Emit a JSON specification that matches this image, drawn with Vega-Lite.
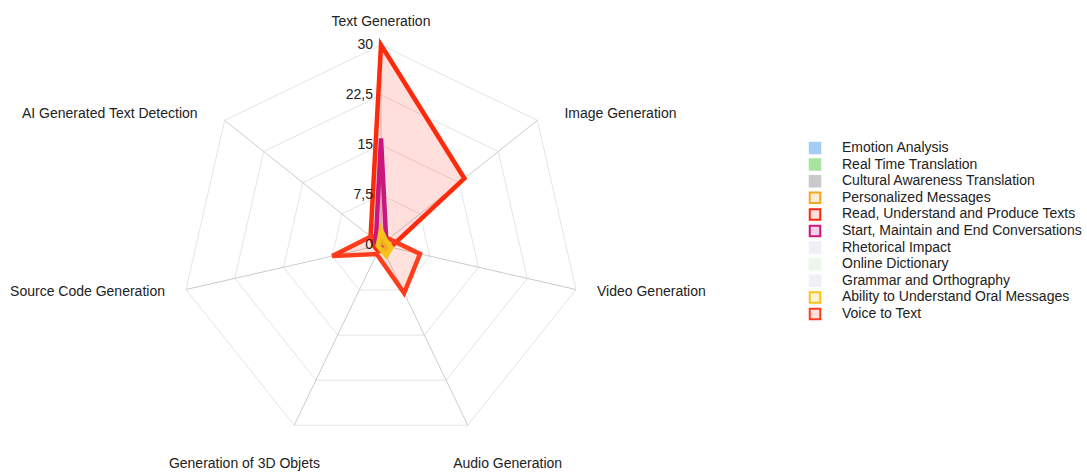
{
  "$schema": "https://vega.github.io/schema/vega-lite/v6.json",
  "width": 1087,
  "height": 473,
  "autosize": {"type": "none"},
  "padding": 0,
  "background": "white",
  "config": {"view": {"stroke": null}, "font": "Liberation Sans"},
  "datasets": {
    "axes": [
      {"axis": "Text Generation"},
      {"axis": "Image Generation"},
      {"axis": "Video Generation"},
      {"axis": "Audio Generation"},
      {"axis": "Generation of 3D Objets"},
      {"axis": "Source Code Generation"},
      {"axis": "AI Generated Text Detection"}
    ],
    "ticks": [{"v": 0}, {"v": 7.5}, {"v": 15}, {"v": 22.5}, {"v": 30}],
    "grid": [
      {"ring": 7.5, "axis": "Text Generation"}, {"ring": 7.5, "axis": "Image Generation"}, {"ring": 7.5, "axis": "Video Generation"}, {"ring": 7.5, "axis": "Audio Generation"}, {"ring": 7.5, "axis": "Generation of 3D Objets"}, {"ring": 7.5, "axis": "Source Code Generation"}, {"ring": 7.5, "axis": "AI Generated Text Detection"},
      {"ring": 15, "axis": "Text Generation"}, {"ring": 15, "axis": "Image Generation"}, {"ring": 15, "axis": "Video Generation"}, {"ring": 15, "axis": "Audio Generation"}, {"ring": 15, "axis": "Generation of 3D Objets"}, {"ring": 15, "axis": "Source Code Generation"}, {"ring": 15, "axis": "AI Generated Text Detection"},
      {"ring": 22.5, "axis": "Text Generation"}, {"ring": 22.5, "axis": "Image Generation"}, {"ring": 22.5, "axis": "Video Generation"}, {"ring": 22.5, "axis": "Audio Generation"}, {"ring": 22.5, "axis": "Generation of 3D Objets"}, {"ring": 22.5, "axis": "Source Code Generation"}, {"ring": 22.5, "axis": "AI Generated Text Detection"},
      {"ring": 30, "axis": "Text Generation"}, {"ring": 30, "axis": "Image Generation"}, {"ring": 30, "axis": "Video Generation"}, {"ring": 30, "axis": "Audio Generation"}, {"ring": 30, "axis": "Generation of 3D Objets"}, {"ring": 30, "axis": "Source Code Generation"}, {"ring": 30, "axis": "AI Generated Text Detection"}
    ],
    "scores": [
      {"series": "Read, Understand and Produce Texts", "axis": "Text Generation", "value": 30},
      {"series": "Read, Understand and Produce Texts", "axis": "Image Generation", "value": 16},
      {"series": "Read, Understand and Produce Texts", "axis": "Video Generation", "value": 1.5},
      {"series": "Read, Understand and Produce Texts", "axis": "Audio Generation", "value": 1},
      {"series": "Read, Understand and Produce Texts", "axis": "Generation of 3D Objets", "value": 1},
      {"series": "Read, Understand and Produce Texts", "axis": "Source Code Generation", "value": 1},
      {"series": "Read, Understand and Produce Texts", "axis": "AI Generated Text Detection", "value": 2},
      {"series": "Voice to Text", "axis": "Text Generation", "value": 1.5},
      {"series": "Voice to Text", "axis": "Image Generation", "value": 1.5},
      {"series": "Voice to Text", "axis": "Video Generation", "value": 6},
      {"series": "Voice to Text", "axis": "Audio Generation", "value": 8},
      {"series": "Voice to Text", "axis": "Generation of 3D Objets", "value": 1.5},
      {"series": "Voice to Text", "axis": "Source Code Generation", "value": 7.5},
      {"series": "Voice to Text", "axis": "AI Generated Text Detection", "value": 2},
      {"series": "Start, Maintain and End Conversations", "axis": "Text Generation", "value": 16},
      {"series": "Start, Maintain and End Conversations", "axis": "Image Generation", "value": 1},
      {"series": "Start, Maintain and End Conversations", "axis": "Video Generation", "value": 0.5},
      {"series": "Start, Maintain and End Conversations", "axis": "Audio Generation", "value": 0.5},
      {"series": "Start, Maintain and End Conversations", "axis": "Generation of 3D Objets", "value": 0.5},
      {"series": "Start, Maintain and End Conversations", "axis": "Source Code Generation", "value": 0.5},
      {"series": "Start, Maintain and End Conversations", "axis": "AI Generated Text Detection", "value": 1},
      {"series": "Personalized Messages", "axis": "Text Generation", "value": 1},
      {"series": "Personalized Messages", "axis": "Image Generation", "value": 0.5},
      {"series": "Personalized Messages", "axis": "Video Generation", "value": 1},
      {"series": "Personalized Messages", "axis": "Audio Generation", "value": 1},
      {"series": "Personalized Messages", "axis": "Generation of 3D Objets", "value": 0.5},
      {"series": "Personalized Messages", "axis": "Source Code Generation", "value": 0.5},
      {"series": "Personalized Messages", "axis": "AI Generated Text Detection", "value": 0.5},
      {"series": "Ability to Understand Oral Messages", "axis": "Text Generation", "value": 2.3},
      {"series": "Ability to Understand Oral Messages", "axis": "Image Generation", "value": 1},
      {"series": "Ability to Understand Oral Messages", "axis": "Video Generation", "value": 1.6},
      {"series": "Ability to Understand Oral Messages", "axis": "Audio Generation", "value": 1.8},
      {"series": "Ability to Understand Oral Messages", "axis": "Generation of 3D Objets", "value": 0.5},
      {"series": "Ability to Understand Oral Messages", "axis": "Source Code Generation", "value": 0.5},
      {"series": "Ability to Understand Oral Messages", "axis": "AI Generated Text Detection", "value": 0.5}
    ]
  },
  "layer": [
    {
      "data": {"name": "grid"},
      "transform": [
        {"calculate": "indexof(['Text Generation','Image Generation','Video Generation','Audio Generation','Generation of 3D Objets','Source Code Generation','AI Generated Text Detection'], datum.axis)", "as": "idx"},
        {"calculate": "datum.ring * sin(datum.idx * 2 * PI / 7)", "as": "x"},
        {"calculate": "datum.ring * cos(datum.idx * 2 * PI / 7)", "as": "y"}
      ],
      "mark": {"type": "line", "interpolate": "linear-closed", "color": "#e4e4e4", "strokeWidth": 1},
      "encoding": {
        "x": {"field": "x", "type": "quantitative", "axis": null, "scale": {"domain": [-57.15, 105.9], "nice": false, "zero": false}},
        "y": {"field": "y", "type": "quantitative", "axis": null, "scale": {"domain": [-34.2, 36.75], "nice": false, "zero": false}},
        "detail": {"field": "ring", "type": "nominal"},
        "order": {"field": "idx", "type": "quantitative"}
      }
    },
    {
      "data": {"name": "axes"},
      "transform": [
        {"calculate": "indexof(['Text Generation','Image Generation','Video Generation','Audio Generation','Generation of 3D Objets','Source Code Generation','AI Generated Text Detection'], datum.axis)", "as": "idx"},
        {"calculate": "30 * sin(datum.idx * 2 * PI / 7)", "as": "x"},
        {"calculate": "30 * cos(datum.idx * 2 * PI / 7)", "as": "y"},
        {"calculate": "0", "as": "x0"},
        {"calculate": "0", "as": "y0"}
      ],
      "mark": {"type": "rule", "color": "#cbcbcb", "strokeWidth": 1},
      "encoding": {
        "x": {"field": "x", "type": "quantitative", "axis": null, "scale": {"domain": [-57.15, 105.9], "nice": false, "zero": false}},
        "y": {"field": "y", "type": "quantitative", "axis": null, "scale": {"domain": [-34.2, 36.75], "nice": false, "zero": false}},
        "x2": {"field": "x0"},
        "y2": {"field": "y0"}
      }
    },
    {
      "data": {"name": "scores"},
      "transform": [
        {"calculate": "indexof(['Text Generation','Image Generation','Video Generation','Audio Generation','Generation of 3D Objets','Source Code Generation','AI Generated Text Detection'], datum.axis)", "as": "idx"},
        {"calculate": "datum.value * sin(datum.idx * 2 * PI / 7)", "as": "x"},
        {"calculate": "datum.value * cos(datum.idx * 2 * PI / 7)", "as": "y"}
      ],
      "mark": {"type": "line", "interpolate": "linear-closed", "strokeWidth": 4.5},
      "encoding": {
        "x": {"field": "x", "type": "quantitative", "axis": null, "scale": {"domain": [-57.15, 105.9], "nice": false, "zero": false}},
        "y": {"field": "y", "type": "quantitative", "axis": null, "scale": {"domain": [-34.2, 36.75], "nice": false, "zero": false}},
        "order": {"field": "idx", "type": "quantitative"},
        "stroke": {
          "field": "series",
          "type": "nominal",
          "scale": {
            "domain": ["Emotion Analysis", "Real Time Translation", "Cultural Awareness Translation", "Personalized Messages", "Read, Understand and Produce Texts", "Start, Maintain and End Conversations", "Rhetorical Impact", "Online Dictionary", "Grammar and Orthography", "Ability to Understand Oral Messages", "Voice to Text"],
            "range": ["#a3cdf5", "#a8e3a0", "#c9c9c9", "#f5a623", "#fe2a0c", "#c9177e", "#eef0f6", "#eef5ec", "#eef0f6", "#f7c21a", "#ff3d1c"]
          },
          "legend": {
            "orient": "none",
            "legendX": 808,
            "legendY": 141,
            "title": null,
            "padding": 0,
            "symbolType": "square",
            "symbolSize": 110,
            "symbolStrokeWidth": 2,
            "labelFont": "Liberation Sans",
            "labelFontSize": 14,
            "labelColor": "#222222",
            "labelOffset": 20,
            "labelLimit": 400,
            "clipHeight": 14,
            "rowPadding": 2.6
          }
        },
        "fill": {
          "field": "series",
          "type": "nominal",
          "scale": {
            "domain": ["Emotion Analysis", "Real Time Translation", "Cultural Awareness Translation", "Personalized Messages", "Read, Understand and Produce Texts", "Start, Maintain and End Conversations", "Rhetorical Impact", "Online Dictionary", "Grammar and Orthography", "Ability to Understand Oral Messages", "Voice to Text"],
            "range": ["#a3cdf5", "#a8e3a0", "#c9c9c9", "rgba(245,166,35,0.2)", "rgba(254,42,12,0.15)", "rgba(201,23,126,0.2)", "#eef0f6", "#eef5ec", "#eef0f6", "rgba(247,194,26,0.2)", "rgba(255,61,28,0.15)"]
          },
          "legend": {
            "orient": "none",
            "legendX": 808,
            "legendY": 141,
            "title": null,
            "padding": 0,
            "symbolType": "square",
            "symbolSize": 110,
            "symbolStrokeWidth": 2,
            "labelFont": "Liberation Sans",
            "labelFontSize": 14,
            "labelColor": "#222222",
            "labelOffset": 20,
            "labelLimit": 400,
            "clipHeight": 14,
            "rowPadding": 2.6
          }
        }
      }
    },
    {
      "data": {"name": "ticks"},
      "transform": [
        {"calculate": "replace(toString(datum.v), '.', ',')", "as": "label"},
        {"calculate": "0", "as": "x"}
      ],
      "mark": {"type": "text", "align": "right", "baseline": "middle", "dx": -8, "fontSize": 14, "font": "Liberation Sans", "color": "#222222"},
      "encoding": {
        "x": {"field": "x", "type": "quantitative", "axis": null, "scale": {"domain": [-57.15, 105.9], "nice": false, "zero": false}},
        "y": {"field": "v", "type": "quantitative", "axis": null, "scale": {"domain": [-34.2, 36.75], "nice": false, "zero": false}},
        "text": {"field": "label"}
      }
    },
    {
      "data": {"name": "axes"},
      "transform": [
        {"calculate": "indexof(['Text Generation','Image Generation','Video Generation','Audio Generation','Generation of 3D Objets','Source Code Generation','AI Generated Text Detection'], datum.axis)", "as": "idx"},
        {"filter": "datum.idx == 0"},
        {"calculate": "33.5 * sin(datum.idx * 2 * PI / 7)", "as": "x"},
        {"calculate": "33.5 * cos(datum.idx * 2 * PI / 7)", "as": "y"}
      ],
      "mark": {"type": "text", "align": "center", "baseline": "middle", "fontSize": 14, "font": "Liberation Sans", "color": "#222222"},
      "encoding": {
        "x": {"field": "x", "type": "quantitative", "axis": null, "scale": {"domain": [-57.15, 105.9], "nice": false, "zero": false}},
        "y": {"field": "y", "type": "quantitative", "axis": null, "scale": {"domain": [-34.2, 36.75], "nice": false, "zero": false}},
        "text": {"field": "axis"}
      }
    },
    {
      "data": {"name": "axes"},
      "transform": [
        {"calculate": "indexof(['Text Generation','Image Generation','Video Generation','Audio Generation','Generation of 3D Objets','Source Code Generation','AI Generated Text Detection'], datum.axis)", "as": "idx"},
        {"filter": "datum.idx == 1 || datum.idx == 2"},
        {"calculate": "(33.75 + 2.3 * cos(datum.idx * 2 * PI / 7)) * sin(datum.idx * 2 * PI / 7)", "as": "x"},
        {"calculate": "31.5 * cos(datum.idx * 2 * PI / 7)", "as": "y"}
      ],
      "mark": {"type": "text", "align": "left", "baseline": "middle", "fontSize": 14, "font": "Liberation Sans", "color": "#222222"},
      "encoding": {
        "x": {"field": "x", "type": "quantitative", "axis": null, "scale": {"domain": [-57.15, 105.9], "nice": false, "zero": false}},
        "y": {"field": "y", "type": "quantitative", "axis": null, "scale": {"domain": [-34.2, 36.75], "nice": false, "zero": false}},
        "text": {"field": "axis"}
      }
    },
    {
      "data": {"name": "axes"},
      "transform": [
        {"calculate": "indexof(['Text Generation','Image Generation','Video Generation','Audio Generation','Generation of 3D Objets','Source Code Generation','AI Generated Text Detection'], datum.axis)", "as": "idx"},
        {"filter": "datum.idx == 5 || datum.idx == 6"},
        {"calculate": "(33.75 + 2.3 * cos(datum.idx * 2 * PI / 7)) * sin(datum.idx * 2 * PI / 7)", "as": "x"},
        {"calculate": "31.5 * cos(datum.idx * 2 * PI / 7)", "as": "y"}
      ],
      "mark": {"type": "text", "align": "right", "baseline": "middle", "fontSize": 14, "font": "Liberation Sans", "color": "#222222"},
      "encoding": {
        "x": {"field": "x", "type": "quantitative", "axis": null, "scale": {"domain": [-57.15, 105.9], "nice": false, "zero": false}},
        "y": {"field": "y", "type": "quantitative", "axis": null, "scale": {"domain": [-34.2, 36.75], "nice": false, "zero": false}},
        "text": {"field": "axis"}
      }
    },
    {
      "data": {"name": "axes"},
      "transform": [
        {"calculate": "indexof(['Text Generation','Image Generation','Video Generation','Audio Generation','Generation of 3D Objets','Source Code Generation','AI Generated Text Detection'], datum.axis)", "as": "idx"},
        {"filter": "datum.idx == 3 || datum.idx == 4"},
        {"calculate": "45.5 * sin(datum.idx * 2 * PI / 7)", "as": "x"},
        {"calculate": "36.4 * cos(datum.idx * 2 * PI / 7)", "as": "y"}
      ],
      "mark": {"type": "text", "align": "center", "baseline": "middle", "dx": -5, "fontSize": 14, "font": "Liberation Sans", "color": "#222222"},
      "encoding": {
        "x": {"field": "x", "type": "quantitative", "axis": null, "scale": {"domain": [-57.15, 105.9], "nice": false, "zero": false}},
        "y": {"field": "y", "type": "quantitative", "axis": null, "scale": {"domain": [-34.2, 36.75], "nice": false, "zero": false}},
        "text": {"field": "axis"}
      }
    }
  ]
}
